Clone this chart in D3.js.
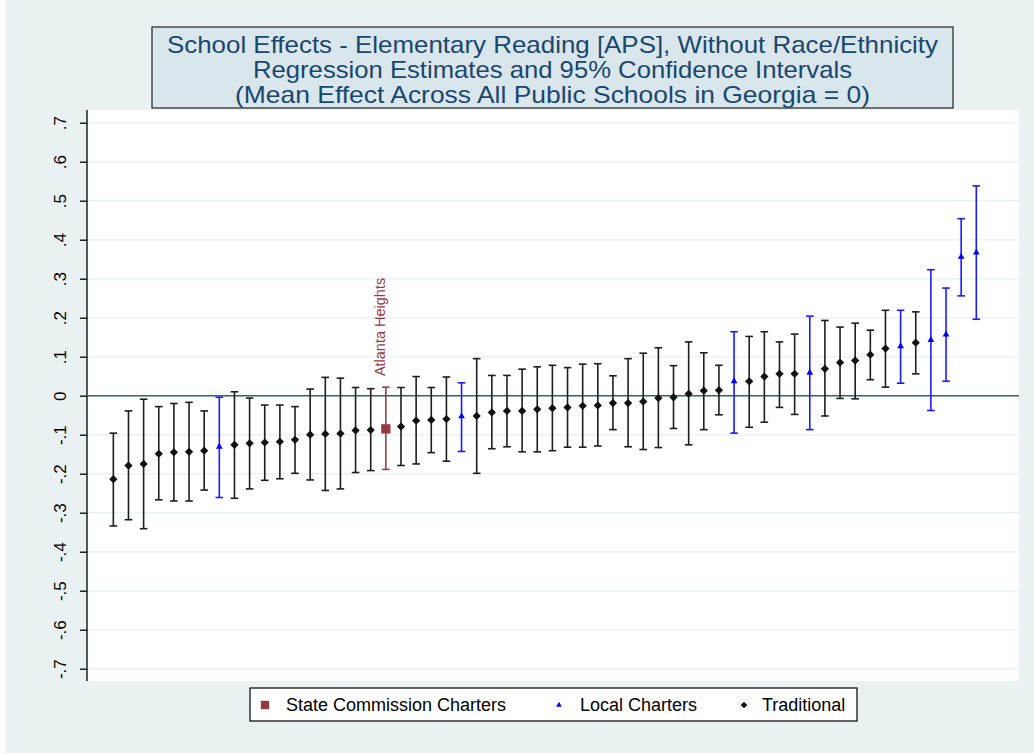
<!DOCTYPE html>
<html><head><meta charset="utf-8">
<script src="https://cdn.jsdelivr.net/npm/d3@7"></script>
<style>body{margin:0;padding:0;background:#fff}svg{display:block;font-family:"Liberation Sans",Arial,sans-serif}</style>
</head><body><svg id="c" width="1034" height="753"></svg>
<script>
// ---- data ----
const schools = d3.range(1, 59);
const estimates = [-0.214,-0.179,-0.175,-0.149,-0.145,-0.144,-0.141,-0.131,-0.126,-0.122,-0.120,-0.118,-0.113,-0.100,
  -0.098,-0.097,-0.089,-0.088,-0.085,-0.079,-0.064,-0.062,-0.060,-0.053,-0.052,-0.043,-0.039,-0.039,-0.035,
  -0.032,-0.030,-0.026,-0.025,-0.019,-0.019,-0.015,-0.006,-0.004,0.005,0.013,0.014,0.037,0.037,
  0.049,0.056,0.056,0.059,0.069,0.085,0.090,0.105,0.121,0.127,0.136,0.143,0.157,0.356,0.367];
const lower = [-0.334,-0.318,-0.341,-0.267,-0.270,-0.270,-0.242,-0.261,-0.263,-0.239,-0.217,-0.213,-0.199,-0.216,
  -0.243,-0.239,-0.197,-0.192,-0.189,-0.179,-0.175,-0.146,-0.168,-0.143,-0.199,-0.136,-0.131,-0.144,-0.144,
  -0.141,-0.132,-0.132,-0.129,-0.087,-0.131,-0.138,-0.133,-0.084,-0.126,-0.087,-0.049,-0.096,-0.081,
  -0.068,-0.030,-0.048,-0.087,-0.052,-0.007,-0.008,0.041,0.022,0.032,0.056,-0.038,0.037,0.256,0.196];
const upper = [-0.096,-0.039,-0.009,-0.028,-0.020,-0.017,-0.039,-0.004,0.010,-0.006,-0.024,-0.024,-0.028,0.017,
  0.047,0.045,0.021,0.018,0.022,0.021,0.049,0.021,0.048,0.033,0.095,0.052,0.052,0.068,0.074,
  0.078,0.072,0.081,0.082,0.051,0.095,0.109,0.123,0.077,0.138,0.110,0.078,0.164,0.152,
  0.164,0.138,0.158,0.204,0.193,0.176,0.186,0.168,0.219,0.219,0.215,0.323,0.276,0.454,0.538];
const types = ["T","T","T","T","T","T","T","L","T","T","T","T","T","T",
  "T","T","T","T","S","T","T","T","T","L","T","T","T","T","T",
  "T","T","T","T","T","T","T","T","T","T","T","T","L","T",
  "T","T","T","L","T","T","T","T","T","L","T","L","L","L","L"];
const pointLabels = schools.map(i => i === 19 ? "Atlanta Heights" : "");
const yTicks = [0.7,0.6,0.5,0.4,0.3,0.2,0.1,0,-0.1,-0.2,-0.3,-0.4,-0.5,-0.6,-0.7];
const yTickLabels = [".7",".6",".5",".4",".3",".2",".1","0","-.1","-.2","-.3","-.4","-.5","-.6","-.7"];
const legendKeys = ["S","L","T"];
const legendNames = ["State Commission Charters","Local Charters","Traditional"];
const titleLines = ["School Effects - Elementary Reading [APS], Without Race/Ethnicity",
  "Regression Estimates and 95% Confidence Intervals",
  "(Mean Effect Across All Public Schools in Georgia = 0)"];

// ---- styles ----
const colors = {S:"#943a3f", L:"#0000ff", T:"#111111"};
const barColors = {S:"#9a3d43", L:"#1a1aff", T:"#1e1e1e"};

const svg = d3.select("#c");
const W = 1034, H = 753;
const plot = {l:87, r:1019, t:110, b:681};

svg.append("rect").attr("width",W).attr("height",H).attr("fill","#e9f1f3");
svg.append("rect").attr("width",6).attr("height",H).attr("fill","#ffffff");
svg.append("rect").attr("x",plot.l).attr("y",plot.t).attr("width",plot.r-plot.l).attr("height",plot.b-plot.t).attr("fill","#ffffff");

const x = d3.scaleLinear().domain([-0.74, 60.82]).range([plot.l, plot.r]);
const y = d3.scaleLinear().domain([-0.7, 0.7]).range([668.7, 122.7]);

// gridlines
svg.append("g").selectAll("line").data(yTicks).join("line")
  .attr("x1",plot.l).attr("x2",plot.r).attr("y1",d=>y(d)).attr("y2",d=>y(d))
  .attr("stroke","#eaf2f3").attr("stroke-width",1.6);

// y axis
const yAxis = d3.axisLeft(y).tickValues(yTicks).tickSize(7).tickSizeOuter(0)
  .tickFormat((d,i)=>yTickLabels[i]);
const ga = svg.append("g").attr("transform",`translate(${plot.l},0)`).call(yAxis);
ga.select(".domain").attr("d",`M0,${plot.t}V${plot.b}`).attr("stroke","#000").attr("stroke-width",1.3);
ga.selectAll(".tick line").attr("stroke","#000").attr("stroke-width",1.3);
ga.selectAll(".tick text").attr("font-size",17).attr("fill","#000")
  .attr("font-family",'"Liberation Sans",Arial,sans-serif')
  .attr("text-anchor","middle").attr("x",0).attr("dy",0)
  .attr("transform","translate(-27,0) rotate(-90)").attr("dominant-baseline","central");

// zero line
svg.append("line").attr("x1",plot.l).attr("x2",plot.r).attr("y1",y(0)).attr("y2",y(0))
  .attr("stroke","#336b60").attr("stroke-width",1.6);

// error bars
const data = schools.map((s,i)=>({s, est:estimates[i], lo:lower[i], hi:upper[i], t:types[i], label:pointLabels[i]}));
const gb = svg.append("g");
const cap = 3.8;
data.forEach(d=>{
  const g = gb.append("g").attr("stroke",barColors[d.t]).attr("stroke-width",1.6);
  g.append("line").attr("x1",x(d.s)).attr("x2",x(d.s)).attr("y1",y(d.lo)).attr("y2",y(d.hi));
  g.append("line").attr("x1",x(d.s)-cap).attr("x2",x(d.s)+cap).attr("y1",y(d.lo)).attr("y2",y(d.lo));
  g.append("line").attr("x1",x(d.s)-cap).attr("x2",x(d.s)+cap).attr("y1",y(d.hi)).attr("y2",y(d.hi));
});

// markers
function markerPath(t){
  if (t==="S") return d3.symbol().type(d3.symbolSquare).size(86)();
  if (t==="L") return d3.symbol().type(d3.symbolTriangle).size(20)();
  return d3.symbol().type(d3.symbolSquare).size(34)();
}
svg.append("g").selectAll("path").data(data).join("path")
  .attr("d",d=>markerPath(d.t))
  .attr("transform",d=>`translate(${x(d.s)},${y(d.est)})` + (d.t==="T"?" rotate(45)":""))
  .attr("fill",d=>colors[d.t]);

// point label
svg.append("g").selectAll("text").data(data.filter(d=>d.label)).join("text")
  .attr("transform",d=>`translate(${x(d.s)-0.5},${y(d.hi)-11}) rotate(-90)`)
  .attr("font-size",14.5).attr("fill","#943a3f").text(d=>d.label);

// title box
svg.append("rect").attr("x",152).attr("y",27).attr("width",801).attr("height",81)
  .attr("fill","#d9e6eb").attr("stroke","#222").attr("stroke-width",1.2);
const titleWidths = [771, 599, 635];
svg.append("g").selectAll("text").data(titleLines).join("text")
  .attr("x",552.5).attr("y",(d,i)=>52.5+i*25).attr("text-anchor","middle")
  .attr("font-size",24).attr("fill","#1a476f")
  .attr("textLength",(d,i)=>titleWidths[i]).attr("lengthAdjust","spacingAndGlyphs")
  .text(d=>d);

// legend
svg.append("rect").attr("x",250).attr("y",688).attr("width",607).attr("height",33)
  .attr("fill","#fff").attr("stroke","#000").attr("stroke-width",1.2);
const legX = [265, 559, 744];
const legTextX = [286, 580, 762];
const lg = svg.append("g");
legendKeys.forEach((k,i)=>{
  let p;
  if (k==="S") p = d3.symbol().type(d3.symbolSquare).size(70)();
  else if (k==="L") p = d3.symbol().type(d3.symbolTriangle).size(14)();
  else p = d3.symbol().type(d3.symbolSquare).size(22)();
  lg.append("path").attr("d",p).attr("fill",colors[k])
    .attr("transform",`translate(${legX[i]},${705})`+(k==="T"?" rotate(45)":""));
  lg.append("text").attr("x",legTextX[i]).attr("y",711).attr("font-size",18).attr("fill","#000").text(legendNames[i]);
});
</script></body></html>
